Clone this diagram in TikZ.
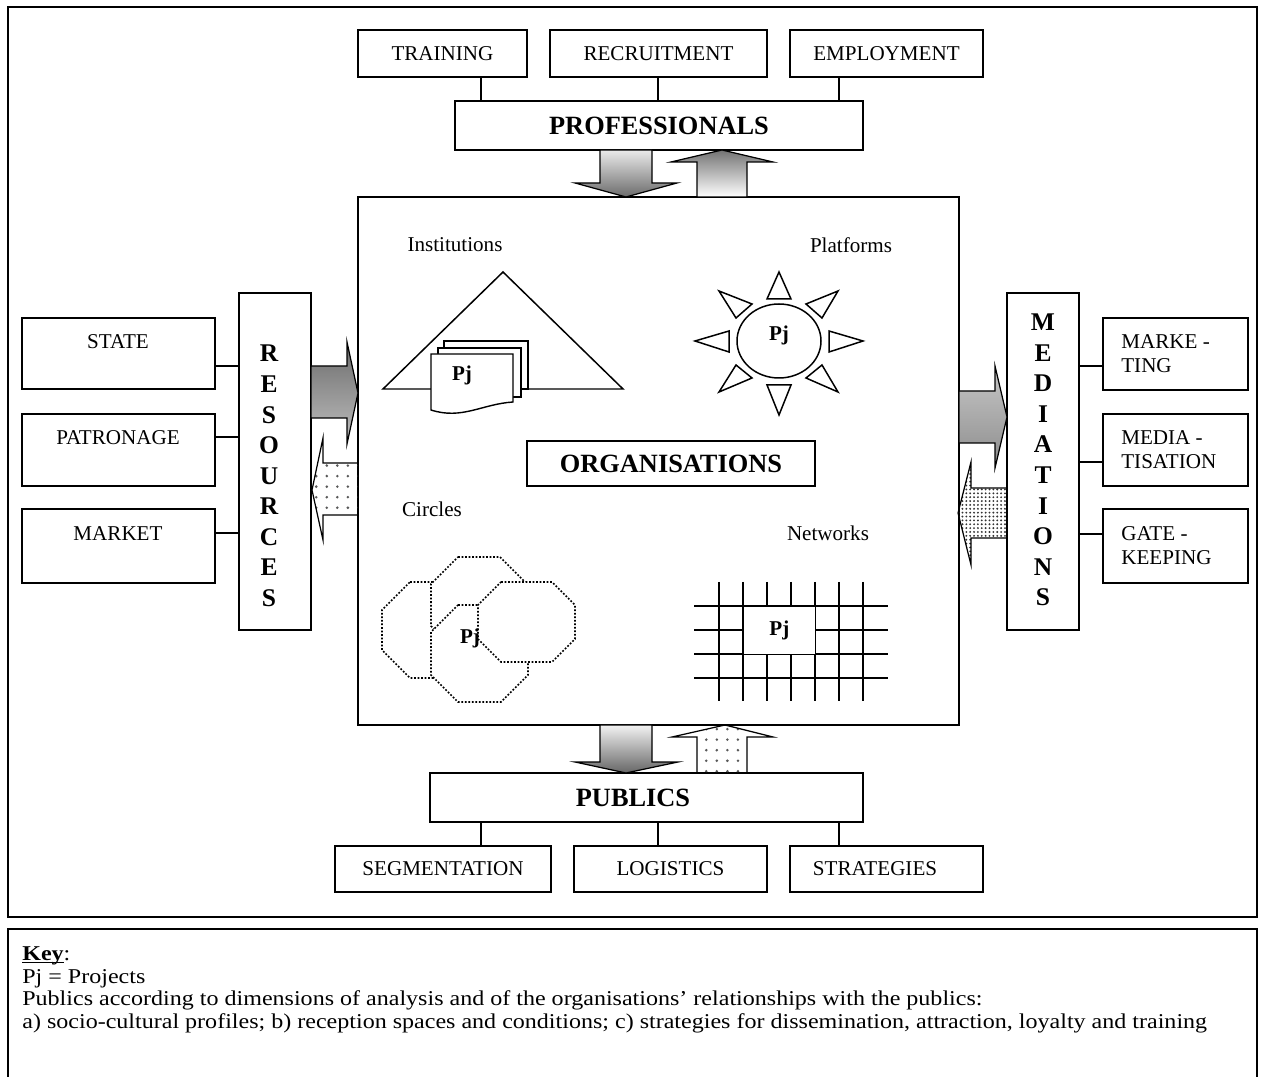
\documentclass[tikz,border=0pt]{standalone}
\usepackage{fontspec}
\setmainfont{Liberation Serif}
\newfontfamily\keyfont[FakeStretch=1.14]{Liberation Serif}
\usetikzlibrary{patterns.meta}
\newcommand\myoct[5]{\draw[octs] (#1+#5,#2) -- (#3-#5,#2) -- (#3,#2+#5) -- (#3,#4-#5) -- (#3-#5,#4) -- (#1+#5,#4) -- (#1,#4-#5) -- (#1,#2+#5) -- cycle;}
\newcommand\keyul[1]{\setbox0\hbox{#1}\rlap{\rule[-1.6pt]{\wd0}{0.6pt}}\box0}
\begin{document}
\begin{tikzpicture}[x=0.02cm,y=-0.02cm,
 every node/.style={font=\fontsize{12}{14}\selectfont},
 bx/.style={draw, line width=0.8pt, inner sep=0pt, outer sep=0pt, anchor=north west},
 ln/.style={line width=0.8pt},
 big/.style={font=\fontsize{15}{18}\selectfont\bfseries},
 vert/.style={font=\fontsize{14.5}{17.4}\selectfont\bfseries, align=center, inner sep=0pt},
 pj/.style={font=\fontsize{12}{14}\selectfont\bfseries, inner sep=0pt},
 blk/.style={draw, line width=0.7pt, line join=miter},
 octs/.style={draw, fill=white, line width=1pt, dash pattern=on 1pt off 1pt},
 sparse/.style={pattern={Dots[distance=6pt, radius=0.8pt]}, pattern color=black!65},
 dense/.style={pattern={Dots[distance=2.2pt, radius=0.6pt]}, pattern color=black!80},
 rtxt/.style={anchor=west, align=left, inner sep=0pt, font=\fontsize{12}{13.6}\selectfont},
]
\useasboundingbox (0,0) rectangle (1265,1077);
\fill[white] (0,0) rectangle (1265,1077);

% frames
\draw[ln] (8,7) rectangle (1257,917);
\draw[ln] (8,1085) -- (8,929) -- (1257,929) -- (1257,1085);

% top
\node[bx, minimum width=3.38cm, minimum height=0.94cm] (training) at (358,30) {TRAINING};
\node[bx, minimum width=4.34cm, minimum height=0.94cm] (recruit) at (550,30) {RECRUITMENT};
\node[bx, minimum width=3.86cm, minimum height=0.94cm] (employ) at (790,30) {EMPLOYMENT};
\node[bx, big, minimum width=8.16cm, minimum height=0.98cm] (prof) at (455,101) {PROFESSIONALS};
\draw[ln] (training.south -| 481,0) -- (prof.north -| 481,0);
\draw[ln] (recruit.south -| 658,0) -- (prof.north -| 658,0);
\draw[ln] (employ.south -| 839,0) -- (prof.north -| 839,0);

% main box
\node[bx, minimum width=12.02cm, minimum height=10.56cm] (org) at (358,197) {};
\node[bx, big, minimum width=5.76cm, minimum height=0.9cm] (orgbox) at (527,441) {ORGANISATIONS};

% left
\node[bx, minimum width=1.44cm, minimum height=6.74cm] (res) at (239,293) {};
\node[vert] (restext) at (269,476) {R\\E\\S\\O\\U\\R\\C\\E\\S};
\node[bx, minimum width=3.86cm, minimum height=1.42cm] (state) at (22,318) {};
\node (statet) at (118,342) {STATE};
\node[bx, minimum width=3.86cm, minimum height=1.44cm] (patron) at (22,414) {};
\node (patront) at (118,438) {PATRONAGE};
\node[bx, minimum width=3.86cm, minimum height=1.48cm] (market) at (22,509) {};
\node (marktt) at (118,534) {MARKET};
\draw[ln] (state.east |- 0,366) -- (res.west |- 0,366);
\draw[ln] (patron.east |- 0,437) -- (res.west |- 0,437);
\draw[ln] (market.east |- 0,533) -- (res.west |- 0,533);

% right
\node[bx, minimum width=1.44cm, minimum height=6.74cm] (med) at (1007,293) {};
\node[vert] (medtext) at (1043,460) {M\\E\\D\\I\\A\\T\\I\\O\\N\\S};
\node[bx, minimum width=2.9cm, minimum height=1.44cm] (mk) at (1103,318) {};
\node[rtxt] (mkt) at (1121,354) {MARKE -\\TING};
\node[bx, minimum width=2.9cm, minimum height=1.44cm] (md) at (1103,414) {};
\node[rtxt] (mdt) at (1121,450) {MEDIA -\\TISATION};
\node[bx, minimum width=2.9cm, minimum height=1.48cm] (gk) at (1103,509) {};
\node[rtxt] (gkt) at (1121,546) {GATE -\\KEEPING};
\draw[ln] (med.east |- 0,366) -- (mk.west |- 0,366);
\draw[ln] (med.east |- 0,462) -- (md.west |- 0,462);
\draw[ln] (med.east |- 0,534) -- (gk.west |- 0,534);

% bottom
\node[bx, minimum width=8.66cm, minimum height=0.98cm] (pub) at (430,773) {};
\node[big] (pubt) at (633,798) {PUBLICS};
\node[bx, minimum width=4.32cm, minimum height=0.92cm] (seg) at (335,846) {SEGMENTATION};
\node[bx, minimum width=3.86cm, minimum height=0.92cm] (log) at (574,846) {LOGISTICS};
\node[bx, minimum width=3.86cm, minimum height=0.92cm] (strat) at (790,846) {};
\node (stratt) at (875,869) {STRATEGIES};
\draw[ln] (pub.south -| 481,0) -- (seg.north -| 481,0);
\draw[ln] (pub.south -| 658,0) -- (log.north -| 658,0);
\draw[ln] (pub.south -| 839,0) -- (strat.north -| 839,0);

% block arrows
\path[blk, top color=black!8, bottom color=black!58] (600,150) -- (652,150) -- (652,183) -- (677,183) -- (626,197) -- (575,183) -- (600,183) -- cycle;
\path[blk, top color=black!55, bottom color=white] (697,197) -- (747,197) -- (747,162) -- (773,162) -- (722,150) -- (671,162) -- (697,162) -- cycle;
\path[blk, top color=black!5, bottom color=black!60] (600,725) -- (652,725) -- (652,762) -- (678,762) -- (626,773) -- (575,762) -- (600,762) -- cycle;
\path[blk, sparse] (697,773) -- (747,773) -- (747,737) -- (773,737) -- (725,725) -- (672,737) -- (697,737) -- cycle;
\path[blk, top color=black!58, bottom color=black!25] (311,366) -- (347,366) -- (347,342) -- (358,393) -- (347,444) -- (347,418) -- (311,418) -- cycle;
\path[blk, sparse] (358,463) -- (323,463) -- (323,438) -- (312,490) -- (323,540) -- (323,515) -- (358,515) -- cycle;
\path[blk, top color=black!22, middle color=black!4, bottom color=black!45] (959,391) -- (995,391) -- (995,366) -- (1007,417) -- (995,468) -- (995,443) -- (959,443) -- cycle;
\path[blk, dense] (1007,488) -- (971,488) -- (971,462) -- (958,513) -- (971,565) -- (971,538) -- (1007,538) -- cycle;

% labels
\node (inst) at (455,245) {Institutions};
\node (plat) at (851,245) {Platforms};
\node (circ) at (432,509) {Circles};
\node (netw) at (828,533) {Networks};

% institutions
\draw[line width=0.85pt, line join=miter] (503,272) -- (383,389) -- (623,389) -- cycle;
\draw[line width=0.8pt, fill=white] (444,341) rectangle (528,389);
\draw[line width=0.8pt, fill=white] (438,348) rectangle (521,397);
\draw[line width=0.8pt, fill=white] (431,354) -- (513,354) -- (513,402) .. controls (482,404) and (462,420) .. (431,410) -- cycle;
\node[pj] (pj1) at (462,375) {Pj};

% platforms
\draw[line width=0.85pt] (779,341) ellipse [x radius=42, y radius=37];
\node[pj] (pj2) at (779,335) {Pj};
\begin{scope}[line width=0.85pt, line join=miter]
\draw (779,272) -- (767,299) -- (791,299) -- cycle;
\draw (779,415) -- (767,385) -- (791,385) -- cycle;
\draw (695,341) -- (729,331) -- (729,352) -- cycle;
\draw (863,341) -- (829,331) -- (829,352) -- cycle;
\draw (719,291) -- (752,304) -- (736,318) -- cycle;
\draw (838,291) -- (806,304) -- (822,318) -- cycle;
\draw (719,392) -- (736,365) -- (752,378) -- cycle;
\draw (838,392) -- (822,365) -- (806,378) -- cycle;
\end{scope}

% circles
\myoct{382}{582}{478}{678}{28}
\myoct{431}{557}{527}{653}{27}
\myoct{431}{605}{528}{702}{27}
\myoct{478}{582}{575}{662}{23}
\node[pj] (pj3) at (470,638) {Pj};

% networks
\foreach \xx in {719,743,767,791,815,839,863} \draw[line width=1.2pt] (\xx,582) -- (\xx,701);
\foreach \yy in {606,630,654,678} \draw[line width=1.2pt] (694,\yy) -- (888,\yy);
\node[draw, line width=0.4pt, fill=white, minimum width=1.44cm, minimum height=0.96cm, inner sep=0pt, anchor=north west, pj] (pj4) at (743,606) {Pj};

% key
\node[anchor=north west, align=left, inner sep=0pt, font=\fontsize{12}{13}\keyfont] (key) at (22,946) {\keyul{\textbf{Key}}:\\
Pj = Projects\\
Publics according to dimensions of analysis and of the organisations’ relationships with the publics:\\
a) socio-cultural profiles; b) reception spaces and conditions; c) strategies for dissemination, attraction, loyalty and training};
\end{tikzpicture}
\end{document}
